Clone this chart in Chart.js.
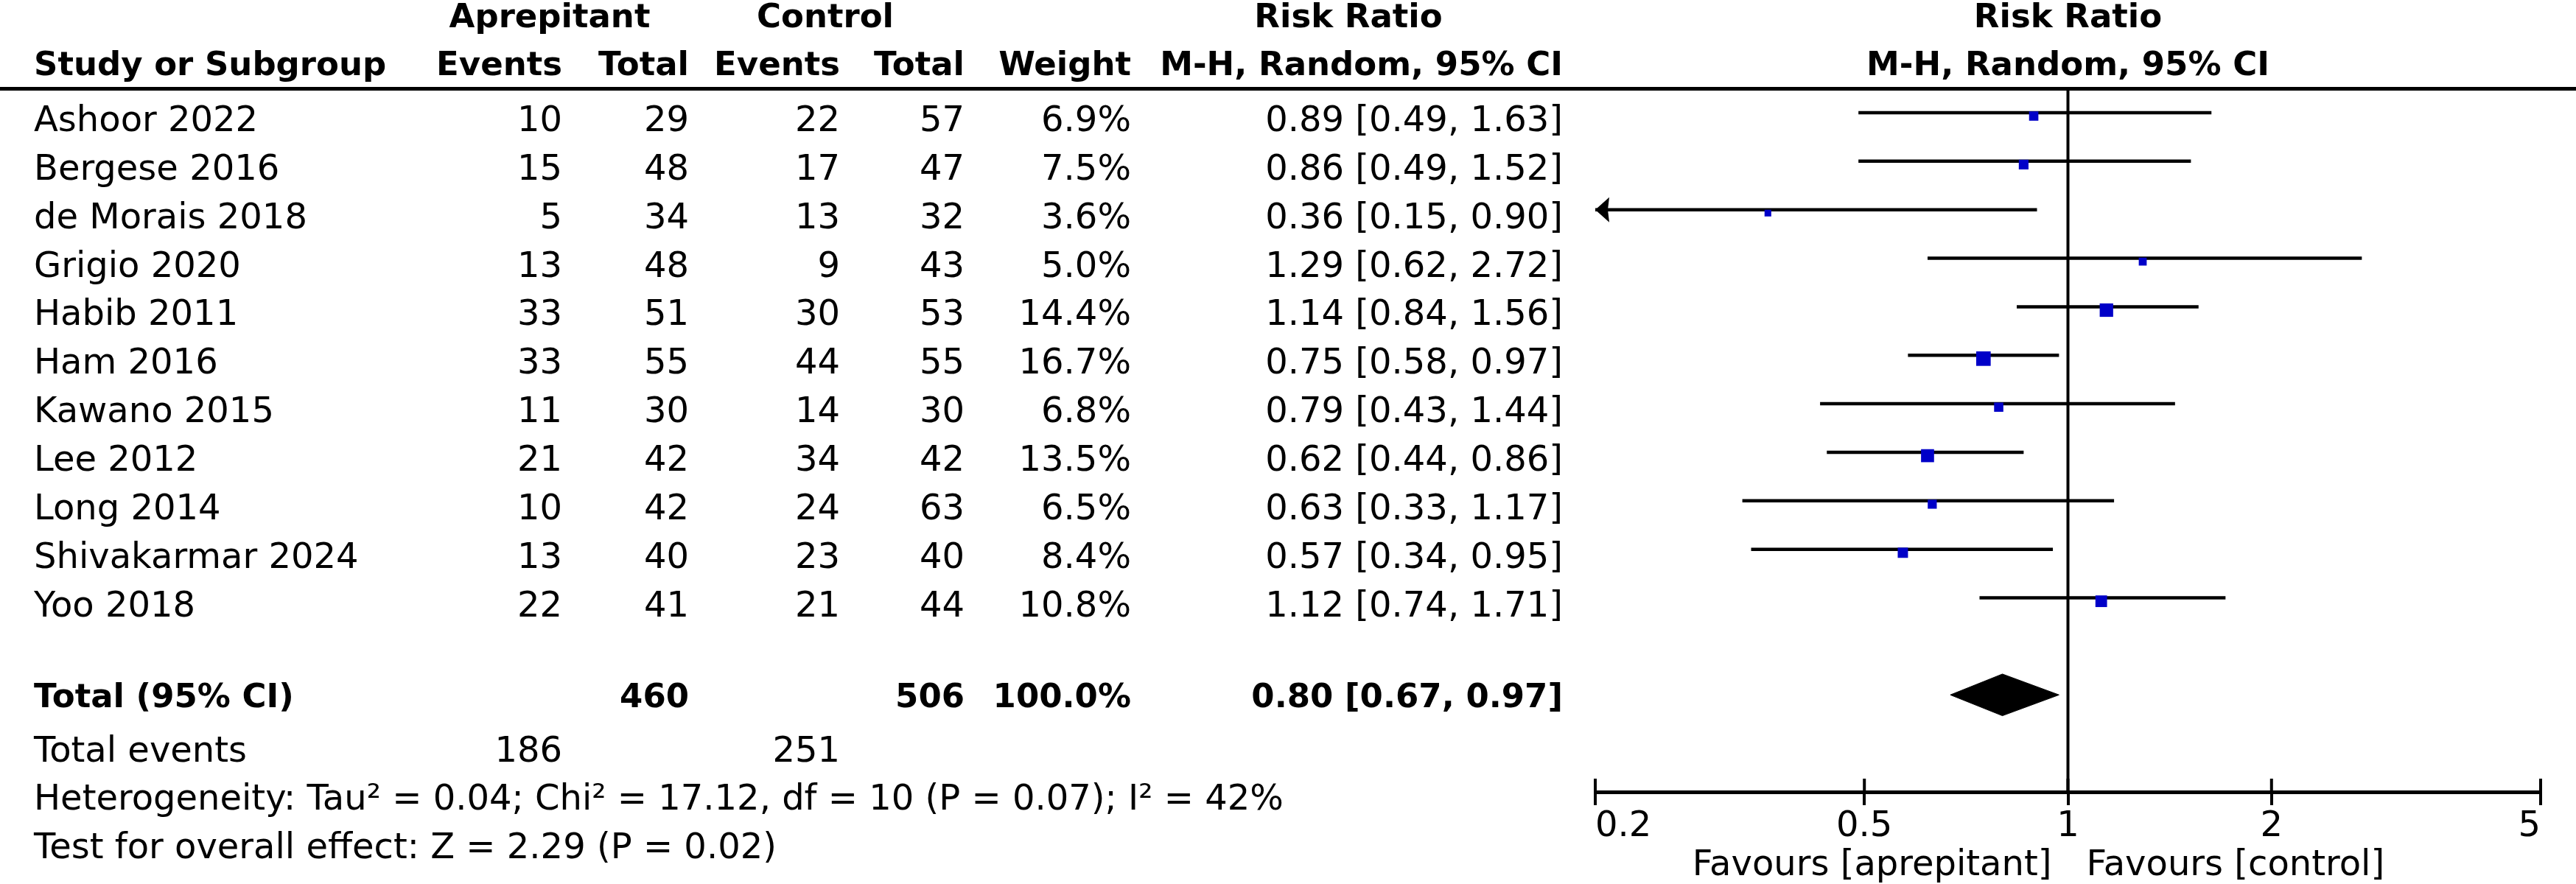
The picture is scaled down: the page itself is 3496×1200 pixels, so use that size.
<!DOCTYPE html>
<html>
<head>
<meta charset="utf-8">
<script src="https://cdn.jsdelivr.net/npm/chart.js@4.4.1/dist/chart.umd.min.js"></script>
<style>
  html, body { margin: 0; padding: 0; background: #fff; }
  #wrap { width: 3496px; height: 1200px; position: relative; }
</style>
</head>
<body>
<div id="wrap"><canvas id="forest"></canvas></div>
<script>
// study data
const studies = ['Ashoor 2022', 'Bergese 2016', 'de Morais 2018', 'Grigio 2020', 'Habib 2011', 'Ham 2016',
                 'Kawano 2015', 'Lee 2012', 'Long 2014', 'Shivakarmar 2024', 'Yoo 2018'];
const aprepEvents = [10, 15, 5, 13, 33, 33, 11, 21, 10, 13, 22];
const aprepTotal  = [29, 48, 34, 48, 51, 55, 30, 42, 42, 40, 41];
const ctrlEvents  = [22, 17, 13, 9, 30, 44, 14, 34, 24, 23, 21];
const ctrlTotal   = [57, 47, 32, 43, 53, 55, 30, 42, 63, 40, 44];
const weights     = [6.9, 7.5, 3.6, 5.0, 14.4, 16.7, 6.8, 13.5, 6.5, 8.4, 10.8];
const rr          = [0.89, 0.86, 0.36, 1.29, 1.14, 0.75, 0.79, 0.62, 0.63, 0.57, 1.12];
const rrLow       = [0.49, 0.49, 0.15, 0.62, 0.84, 0.58, 0.43, 0.44, 0.33, 0.34, 0.74];
const rrHigh      = [1.63, 1.52, 0.90, 2.72, 1.56, 0.97, 1.44, 0.86, 1.17, 0.95, 1.71];

// pooled result
const pooled = [0.80, 0.67, 0.97];          // estimate, lower, upper
const totalRow = ['460', '506', '100.0%'];
const totalEvents = ['186', '251'];
const xTicks = [0.2, 0.5, 1, 2, 5];

const TOTAL_ROW = 12;
const Y_TOP = -0.5, Y_BOTTOM = 14;
const X_MIN = 0.2, X_MAX = 5;
const DIAMOND_HALF = 0.43;
const SQUARE_DROP = 0.07;   // squares sit a little below the CI line

const FONT = '"DejaVu Sans", Verdana, sans-serif';
const REG = '48px ' + FONT;
const BOLD = 'bold 45px ' + FONT;

const datasets = [];

studies.forEach((name, i) => {
    datasets.push({
        label: name + ' CI',
        data: [{ x: rrLow[i], y: i }, { x: rrHigh[i], y: i }],
        showLine: true,
        borderColor: '#000',
        borderWidth: 4.5,
        pointRadius: 0,
        order: 3
    });
});

datasets.push({
    label: 'estimates',
    data: studies.map((_, i) => ({ x: rr[i], y: i + SQUARE_DROP })),
    pointStyle: 'rect',
    pointRadius: ctx => 3.4 * Math.sqrt(weights[ctx.dataIndex]),
    backgroundColor: '#0000c8',
    borderWidth: 0,
    order: 0
});

datasets.push({
    label: 'no effect',
    data: [{ x: 1, y: Y_TOP }, { x: 1, y: Y_BOTTOM }],
    showLine: true,
    borderColor: '#000',
    borderWidth: 4,
    pointRadius: 0,
    order: 2
});

datasets.push({
    label: 'pooled',
    data: [
        { x: pooled[1], y: TOTAL_ROW },
        { x: pooled[0], y: TOTAL_ROW - DIAMOND_HALF },
        { x: pooled[2], y: TOTAL_ROW },
        { x: pooled[0], y: TOTAL_ROW + DIAMOND_HALF },
        { x: pooled[1], y: TOTAL_ROW }
    ],
    showLine: true,
    fill: 'shape',
    borderColor: '#000',
    backgroundColor: '#000',
    borderWidth: 1,
    pointRadius: 0,
    order: 1
});

const tablePlugin = {
    id: 'forestTable',
    afterDraw(chart) {
        const ctx = chart.ctx;
        const xs = chart.scales.x;
        const ys = chart.scales.y;
        const area = chart.chartArea;
        const one = xs.getPixelForValue(1);

        function txt(s, x, y, align, font) {
            ctx.font = font;
            ctx.textAlign = align;
            ctx.fillText(s, x, y);
        }

        ctx.save();
        ctx.fillStyle = '#000';
        ctx.textBaseline = 'alphabetic';

        // headers
        txt('Aprepitant', 746, 37, 'center', BOLD);
        txt('Control', 1120, 37, 'center', BOLD);
        txt('Risk Ratio', 1830, 37, 'center', BOLD);
        txt('Risk Ratio', one, 37, 'center', BOLD);
        txt('Study or Subgroup', 46, 102, 'left', BOLD);
        txt('Events', 763, 102, 'right', BOLD);
        txt('Total', 935, 102, 'right', BOLD);
        txt('Events', 1140, 102, 'right', BOLD);
        txt('Total', 1309, 102, 'right', BOLD);
        txt('Weight', 1535, 102, 'right', BOLD);
        txt('M-H, Random, 95% CI', 2121, 102, 'right', BOLD);
        txt('M-H, Random, 95% CI', one, 102, 'center', BOLD);

        // header rule
        ctx.fillRect(0, 118, chart.width, 5);

        // study rows
        studies.forEach((name, i) => {
            const y = ys.getPixelForValue(i) + 25;
            txt(name, 46, y, 'left', REG);
            txt(String(aprepEvents[i]), 763, y, 'right', REG);
            txt(String(aprepTotal[i]), 935, y, 'right', REG);
            txt(String(ctrlEvents[i]), 1140, y, 'right', REG);
            txt(String(ctrlTotal[i]), 1309, y, 'right', REG);
            txt(weights[i].toFixed(1) + '%', 1535, y, 'right', REG);
            txt(rr[i].toFixed(2) + ' [' + rrLow[i].toFixed(2) + ', ' + rrHigh[i].toFixed(2) + ']', 2121, y, 'right', REG);

            // arrow when the CI runs off the axis
            if (rrLow[i] < X_MIN) {
                const ly = ys.getPixelForValue(i);
                const lx = xs.getPixelForValue(X_MIN);
                ctx.beginPath();
                ctx.moveTo(lx, ly);
                ctx.lineTo(lx + 19, ly - 17);
                ctx.lineTo(lx + 17, ly);
                ctx.lineTo(lx + 19, ly + 17);
                ctx.closePath();
                ctx.fill();
            }
        });

        // total rows
        const ty = ys.getPixelForValue(TOTAL_ROW) + 17;
        txt('Total (95% CI)', 46, ty, 'left', BOLD);
        txt(totalRow[0], 935, ty, 'right', BOLD);
        txt(totalRow[1], 1309, ty, 'right', BOLD);
        txt(totalRow[2], 1535, ty, 'right', BOLD);
        txt(pooled[0].toFixed(2) + ' [' + pooled[1].toFixed(2) + ', ' + pooled[2].toFixed(2) + ']', 2121, ty, 'right', BOLD);

        txt('Total events', 46, ty + 74, 'left', REG);
        txt(totalEvents[0], 763, ty + 74, 'right', REG);
        txt(totalEvents[1], 1140, ty + 74, 'right', REG);
        txt('Heterogeneity: Tau\u00b2 = 0.04; Chi\u00b2 = 17.12, df = 10 (P = 0.07); I\u00b2 = 42%', 46, ty + 139, 'left', REG);
        txt('Test for overall effect: Z = 2.29 (P = 0.02)', 46, ty + 205, 'left', REG);

        // upper half of the axis tick marks
        ctx.lineWidth = 4;
        ctx.strokeStyle = '#000';
        xTicks.forEach(v => {
            const px = xs.getPixelForValue(v);
            ctx.beginPath();
            ctx.moveTo(px, area.bottom);
            ctx.lineTo(px, area.bottom - 18);
            ctx.stroke();
        });

        txt('Favours [aprepitant]', one - 22, 1188, 'right', REG);
        txt('Favours [control]', one + 25, 1188, 'left', REG);
        ctx.restore();
    }
};

new Chart(document.getElementById('forest'), {
    type: 'scatter',
    data: { datasets },
    options: {
        responsive: true,
        maintainAspectRatio: false,
        devicePixelRatio: 1,
        animation: false,
        layout: { padding: { left: 2165, right: 48, top: 120, bottom: 0 } },
        plugins: { legend: { display: false }, tooltip: { enabled: false } },
        scales: {
            x: {
                type: 'logarithmic',
                min: X_MIN,
                max: X_MAX,
                afterBuildTicks: scale => { scale.ticks = xTicks.map(v => ({ value: v })); },
                afterFit: scale => { scale.height = 125; },
                ticks: {
                    autoSkip: false,
                    maxRotation: 0,
                    align: 'inner',
                    padding: 6,
                    color: '#000',
                    font: { family: FONT, size: 48, lineHeight: 1 },
                    callback: v => String(v)
                },
                grid: { drawOnChartArea: false, drawTicks: true, tickLength: 18, color: '#000', lineWidth: 4 },
                border: { display: true, color: '#000', width: 5 }
            },
            y: {
                type: 'linear',
                min: Y_TOP,
                max: Y_BOTTOM,
                reverse: true,
                display: false
            }
        }
    },
    plugins: [tablePlugin]
});
</script>
</body>
</html>
